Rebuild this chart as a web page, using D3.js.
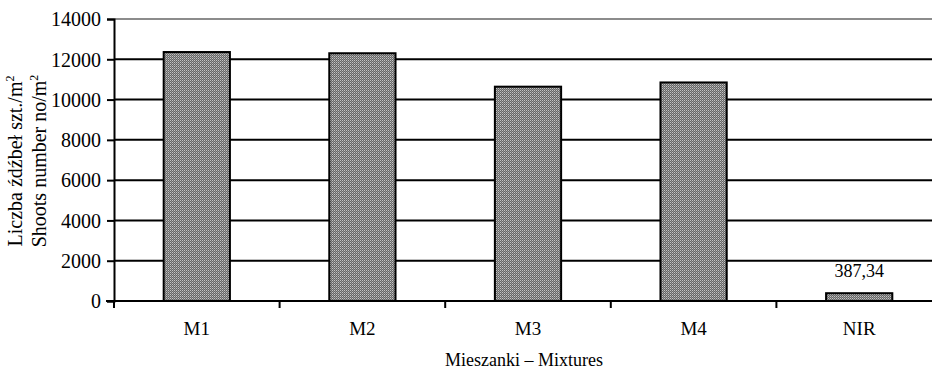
<!DOCTYPE html>
<html>
<head>
<meta charset="utf-8">
<script src="https://cdn.jsdelivr.net/npm/d3@7/dist/d3.min.js"></script>
<style>
  html, body { margin: 0; padding: 0; background: #fff; }
  svg { display: block; }
  text { font-family: "Liberation Serif", "Times New Roman", serif; fill: #000; }
</style>
</head>
<body>
<svg id="chart" width="932" height="369"></svg>
<script>
// Shoot density per mixture, with the LSD (NIR) value as the last bar
const categories = ["M1", "M2", "M3", "M4", "NIR"];
const values = [12360, 12300, 10640, 10850, 387.34];
const valueLabels = [null, null, null, null, "387,34"];
const yTicks = [0, 2000, 4000, 6000, 8000, 10000, 12000, 14000];

const svg = d3.select("#chart");
const margin = { left: 114, top: 19, bottom: 68 };
const height = 369;
const plotRight = 942;

const x = d3.scaleBand().domain(categories).range([margin.left, plotRight]).padding(0);
const y = d3.scaleLinear().domain([0, 14000]).range([height - margin.bottom, margin.top]);

// dithered grey fill for the bars
const defs = svg.append("defs");
const pat = defs.append("pattern")
  .attr("id", "dither").attr("patternUnits", "userSpaceOnUse")
  .attr("width", 2).attr("height", 2);
pat.append("rect").attr("width", 2).attr("height", 2).attr("fill", "#666");
pat.append("rect").attr("width", 1).attr("height", 1).attr("fill", "#c4c4c4");
pat.append("rect").attr("x", 1).attr("y", 1).attr("width", 1).attr("height", 1).attr("fill", "#959595");

// horizontal gridlines
svg.append("g").selectAll("line")
  .data(yTicks.filter(d => d > 0))
  .join("line")
  .attr("x1", margin.left).attr("x2", plotRight)
  .attr("y1", d => y(d)).attr("y2", d => y(d))
  .attr("stroke", d => d === 14000 ? "#8c8c8c" : "#000")
  .attr("stroke-width", 2);

// bars
const barFrac = 0.4;
svg.append("g").selectAll("rect")
  .data(values)
  .join("rect")
  .attr("x", (d, i) => x(categories[i]) + x.bandwidth() * (1 - barFrac) / 2)
  .attr("width", x.bandwidth() * barFrac)
  .attr("y", d => y(d))
  .attr("height", d => y(0) - y(d))
  .attr("fill", "url(#dither)")
  .attr("stroke", "#000")
  .attr("stroke-width", 2);

// value label
svg.append("g").selectAll("text")
  .data(values.map((v, i) => ({ v, i, t: valueLabels[i] })).filter(d => d.t))
  .join("text")
  .attr("x", d => x(categories[d.i]) + x.bandwidth() / 2)
  .attr("y", d => y(d.v) - 16)
  .attr("text-anchor", "middle")
  .attr("font-size", 18)
  .text(d => d.t);

// y axis
const yAxis = svg.append("g")
  .attr("transform", `translate(${margin.left},0)`)
  .call(d3.axisLeft(y).tickValues(yTicks).tickSize(7).tickPadding(6).tickFormat(d3.format("d")));
yAxis.select(".domain").attr("stroke", "#000").attr("stroke-width", 2);
yAxis.selectAll(".tick line").attr("stroke", "#000").attr("stroke-width", 2);
yAxis.selectAll("text").attr("font-size", 20).attr("dy", "0.34em");

// x axis with ticks between categories
const xAxisG = svg.append("g").attr("transform", `translate(0,${y(0)})`);
xAxisG.append("line")
  .attr("x1", margin.left - 8).attr("x2", plotRight)
  .attr("stroke", "#000").attr("stroke-width", 2);
xAxisG.selectAll(".sep")
  .data(categories)
  .join("line")
  .attr("class", "sep")
  .attr("x1", d => x(d)).attr("x2", d => x(d))
  .attr("y1", 0).attr("y2", 7)
  .attr("stroke", "#000").attr("stroke-width", 2);
xAxisG.selectAll("text")
  .data(categories)
  .join("text")
  .attr("x", d => x(d) + x.bandwidth() / 2)
  .attr("y", 34)
  .attr("text-anchor", "middle")
  .attr("font-size", 19)
  .text(d => d);

// axis titles
svg.append("text")
  .attr("x", 524).attr("y", 366)
  .attr("text-anchor", "middle")
  .attr("font-size", 18)
  .text("Mieszanki – Mixtures");

const yTitle = svg.append("text")
  .attr("transform", "translate(0,161) rotate(-90)")
  .attr("text-anchor", "middle")
  .attr("font-size", 20);
const l1 = yTitle.append("tspan").attr("x", 0).attr("y", 22);
l1.append("tspan").text("Liczba źdźbeł szt./m");
l1.append("tspan").attr("font-size", 12).attr("dy", -8).text("2");
const l2 = yTitle.append("tspan").attr("x", 0).attr("y", 46);
l2.append("tspan").text("Shoots number no/m");
l2.append("tspan").attr("font-size", 12).attr("dy", -8).text("2");
</script>
</body>
</html>
